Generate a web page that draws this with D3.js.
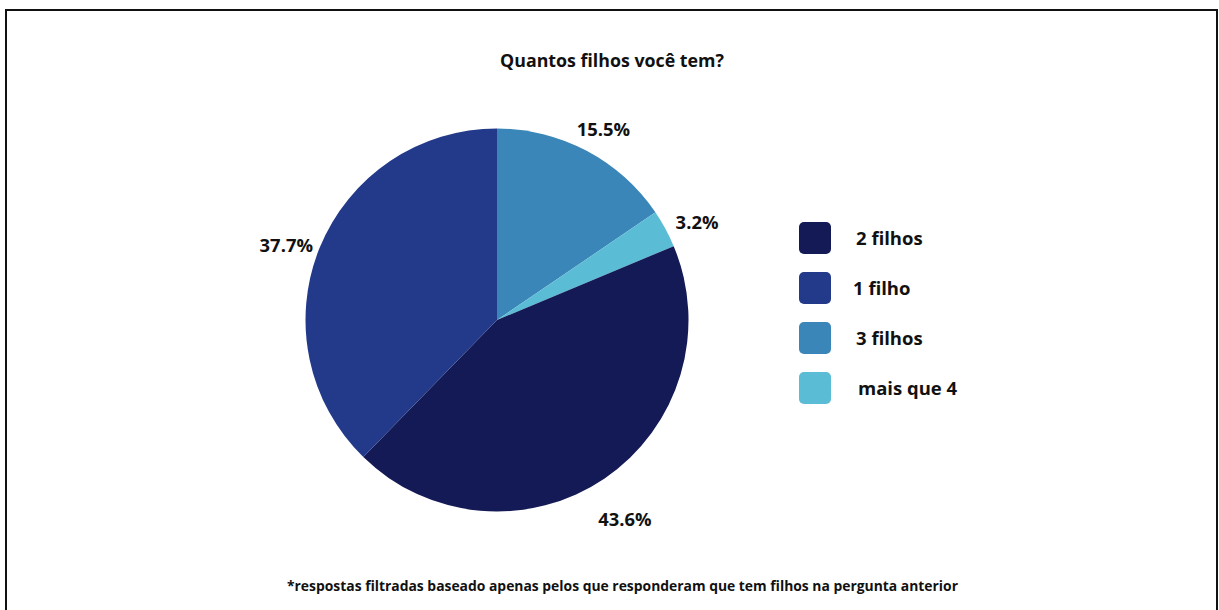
<!DOCTYPE html>
<html>
<head>
<meta charset="utf-8">
<script src="https://cdn.jsdelivr.net/npm/d3@7"></script>
<style>
  html, body { margin: 0; padding: 0; background: #fff; }
  svg { display: block; font-family: "Open Sans", sans-serif; }
</style>
</head>
<body>
<svg id="chart" width="1219" height="610"></svg>
<script>
// Slice order as drawn, clockwise from 12 o'clock
const sliceNames  = ["3 filhos", "mais que 4", "2 filhos", "1 filho"];
const sliceValues = [15.5, 3.2, 43.6, 37.7];
const sliceColors = ["#3a86b8", "#5bbcd6", "#141a55", "#233a8a"];

// Legend order
const legendNames = ["2 filhos", "1 filho", "3 filhos", "mais que 4"];

const titleText = "Quantos filhos você tem?";
const noteText = "*respostas filtradas baseado apenas pelos que responderam que tem filhos na pergunta anterior";

const svg = d3.select("#chart");
const W = 1219, H = 610;

// outer frame
svg.append("rect")
  .attr("x", 6).attr("y", 10)
  .attr("width", W - 8).attr("height", H + 10)
  .attr("fill", "#fff")
  .attr("stroke", "#111").attr("stroke-width", 2);

svg.append("text")
  .attr("x", 612).attr("y", 67)
  .attr("text-anchor", "middle")
  .attr("font-size", 17.8).attr("font-weight", 700)
  .attr("fill", "#111")
  .text(titleText);

const cx = 497, cy = 320, radius = 191.5;
const color = d3.scaleOrdinal().domain(sliceNames).range(sliceColors);

const pie = d3.pie().sort(null).value(d => d.value);
const arcs = pie(sliceNames.map((n, i) => ({ name: n, value: sliceValues[i] })));
const arc = d3.arc().innerRadius(0).outerRadius(radius);
const labelArc = d3.arc().innerRadius(radius + 36).outerRadius(radius + 36);

const g = svg.append("g").attr("transform", `translate(${cx},${cy})`);

g.selectAll("path.slice")
  .data(arcs)
  .join("path")
  .attr("class", "slice")
  .attr("d", arc)
  .attr("fill", d => color(d.data.name));

g.selectAll("text.pct")
  .data(arcs)
  .join("text")
  .attr("class", "pct")
  .attr("transform", d => {
    const [x, y] = labelArc.centroid(d);
    return `translate(${x},${y + 11})`;
  })
  .attr("text-anchor", "middle")
  .attr("dy", "0.35em")
  .attr("font-size", 18.4).attr("font-weight", 700)
  .attr("fill", "#111")
  .text(d => d3.format(".1f")(d.data.value) + "%");

// legend
const legendY = d3.scalePoint().domain(legendNames).range([238, 388]);
const legend = svg.append("g");
const rows = legend.selectAll("g.row")
  .data(legendNames)
  .join("g")
  .attr("class", "row")
  .attr("transform", d => `translate(799,${legendY(d)})`);

rows.append("rect")
  .attr("x", 0).attr("y", -16)
  .attr("width", 32).attr("height", 32)
  .attr("rx", 5)
  .attr("fill", d => color(d));

rows.append("text")
  .attr("x", d => d === "mais que 4" ? 59 : (d === "1 filho" ? 54 : 57))
  .attr("y", 7)
  .attr("font-size", 18.5).attr("font-weight", 700)
  .attr("fill", "#111")
  .text(d => d);

svg.append("text")
  .attr("x", 287).attr("y", 591)
  .attr("font-size", 13.5).attr("font-weight", 700)
  .attr("fill", "#111")
  .attr("textLength", 671).attr("lengthAdjust", "spacingAndGlyphs")
  .text(noteText);
</script>
</body>
</html>
